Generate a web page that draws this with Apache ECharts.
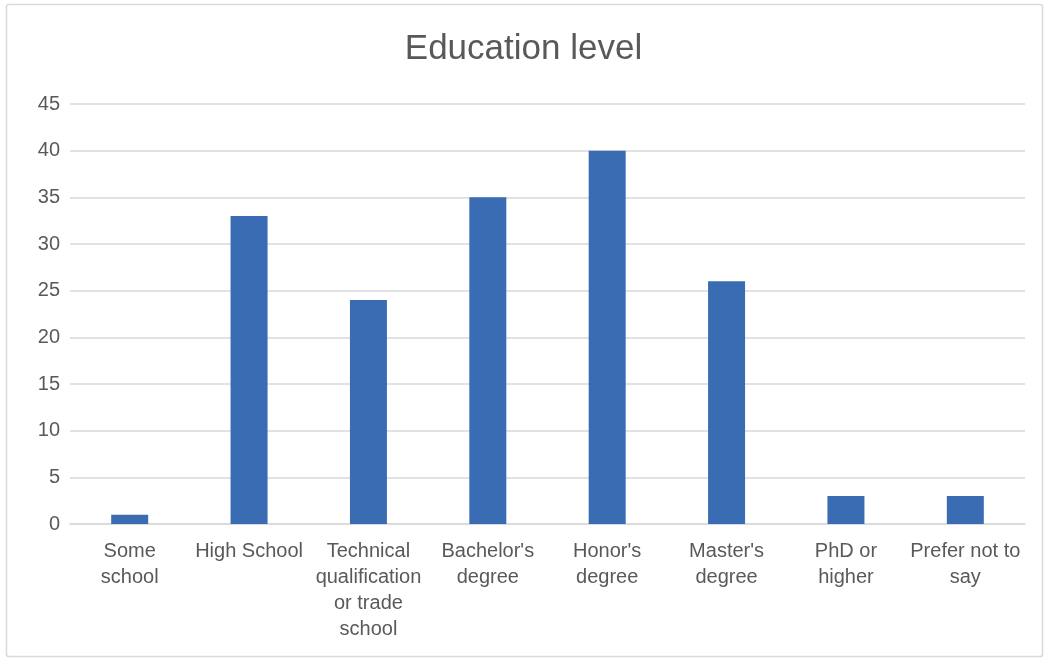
<!DOCTYPE html>
<html><head><meta charset="utf-8">
<script src="https://cdn.jsdelivr.net/npm/echarts@6/dist/echarts.min.js"></script>
<style>html,body{margin:0;padding:0;background:#fff}#c{width:1047px;height:658px}</style>
</head><body><div id="c"></div>
<script>
const categories = ["Some\nschool", "High School", "Technical\nqualification\nor trade\nschool", "Bachelor's\ndegree", "Honor's\ndegree", "Master's\ndegree", "PhD or\nhigher", "Prefer not to\nsay"];
const values = [1, 33, 24, 35, 40, 26, 3, 3];
const yTicks = {min: 0, max: 45, interval: 5};
const titleText = "Education level";

const chart = echarts.init(document.getElementById('c'));
const font = "'Liberation Sans', Arial, sans-serif";
chart.setOption({
  animation: false,
  graphic: [{type: 'rect', shape: {x: 6.5, y: 4.5, width: 1036, height: 652, r: 2}, style: {fill: 'none', stroke: '#d9d9d9', lineWidth: 1.5}}],
  title: {text: titleText, left: 'center', top: 27, textStyle: {fontFamily: font, fontSize: 35, fontWeight: 'normal', color: '#595959'}},
  grid: {left: 70, right: 22, top: 104, bottom: 134, containLabel: false},
  xAxis: {type: 'category', data: categories,
    axisLine: {lineStyle: {color: '#d9d9d9', width: 1.5}}, axisTick: {show: false},
    axisLabel: {interval: 0, fontFamily: font, fontSize: 20, color: '#595959', lineHeight: 26, margin: 14}},
  yAxis: {type: 'value', min: yTicks.min, max: yTicks.max, interval: yTicks.interval,
    axisLine: {show: false}, axisTick: {show: false},
    splitLine: {lineStyle: {color: '#d9d9d9', width: 1.5}},
    axisLabel: {fontFamily: font, fontSize: 20, color: '#595959', margin: 10}},
  series: [{type: 'bar', data: values, barWidth: 37, itemStyle: {color: '#3A6CB4'}}]
});
</script></body></html>
